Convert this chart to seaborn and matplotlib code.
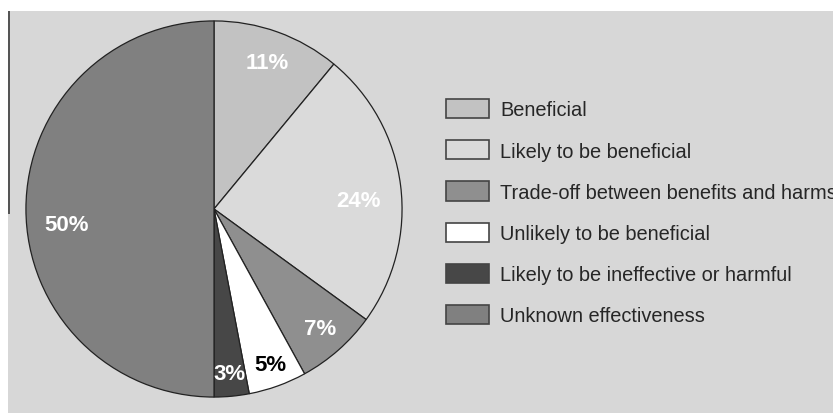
import matplotlib
matplotlib.use("Agg")
import numpy as np
import matplotlib.pyplot as plt
import seaborn as sns
from matplotlib.patches import Patch, Rectangle

categories = [
    "Beneficial",
    "Likely to be beneficial",
    "Trade-off between benefits and harms",
    "Unlikely to be beneficial",
    "Likely to be ineffective or harmful",
    "Unknown effectiveness",
]
shares = [11, 24, 7, 5, 3, 50]
slice_colors = ["#c2c2c2", "#dadada", "#8f8f8f", "#ffffff", "#474747", "#808080"]
text_colors = ["white", "white", "white", "black", "white", "white"]
# label placement tweaks (radius as fraction, angle nudge in degrees)
label_radius = [0.83, 0.77, 0.85, 0.88, 0.88, 0.79]
label_nudge = [0, -3.7, 0, 0, 0, 5.8]

BG = "#d7d7d7"

sns.set_style("white")
plt.rcParams["font.family"] = ["Liberation Sans", "DejaVu Sans"]

fig = plt.figure(figsize=(8.33, 4.14), dpi=100)
fig.patch.set_facecolor("white")
W, H = 833, 414

# grey panel and the thin dark rule on its left edge
fig.add_artist(Rectangle((8 / W, 0), 1 - 8 / W, 1 - 12 / H, transform=fig.transFigure,
                         facecolor=BG, edgecolor="none", zorder=0))
fig.add_artist(Rectangle((8 / W, 1 - 215 / H), 2 / W, (215 - 12) / H, transform=fig.transFigure,
                         facecolor="#555555", edgecolor="none", zorder=1))

ax = fig.add_axes([(214 - 189) / W, (414 - 210 - 189) / H, 378 / W, 378 / H])
ax.set_facecolor("none")
wedges, _ = ax.pie(shares, colors=slice_colors, startangle=90, counterclock=False,
                   radius=1, wedgeprops=dict(edgecolor="#222222", linewidth=0.9))
ax.set_xlim(-1.005, 1.005)
ax.set_ylim(-1.005, 1.005)
ax.axis("off")

for w, val, tc, r, nd in zip(wedges, shares, text_colors, label_radius, label_nudge):
    mid = np.deg2rad((w.theta1 + w.theta2) / 2 + nd)
    ax.text(r * np.cos(mid), r * np.sin(mid), f"{val}%", ha="center", va="center",
            color=tc, fontsize=16, fontweight="bold")

handles = [Patch(facecolor=c, edgecolor="#444444", linewidth=1.2) for c in slice_colors]
fs = 14.4
px = fs / 0.72
fig.legend(handles, categories, loc="upper left", bbox_to_anchor=(446 / W, 1 - 100 / H),
           frameon=False, fontsize=fs, handlelength=43 / px, handleheight=22 / px,
           handletextpad=11 / px, labelspacing=1.04, borderpad=0, borderaxespad=0)

fig.savefig("out.png", dpi=100, facecolor=fig.get_facecolor())
